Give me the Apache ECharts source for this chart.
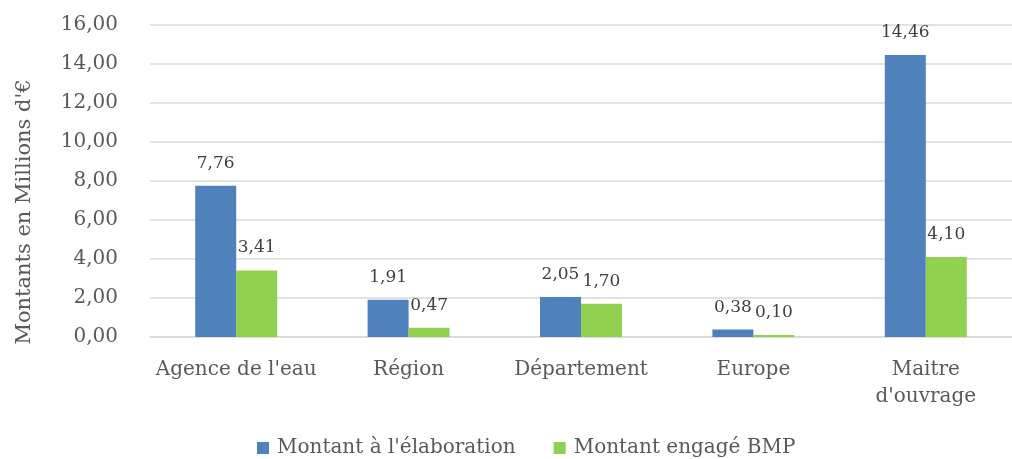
<!DOCTYPE html>
<html>
<head>
<meta charset="utf-8">
<script src="https://cdn.jsdelivr.net/npm/echarts@6/dist/echarts.min.js"></script>
<style>
  html, body { margin: 0; padding: 0; background: #fff; }
  #chart { width: 1012px; height: 459px; }
</style>
</head>
<body>
<div id="chart"></div>
<script>
// valeurs
const categories = ["Agence de l'eau", "Région", "Département", "Europe", "Maitre\nd'ouvrage"];
const montantElaboration = [7.76, 1.91, 2.05, 0.38, 14.46];
const montantEngage = [3.41, 0.47, 1.70, 0.10, 4.10];

const font = 'DejaVu Serif';
const grey = '#595959';
const fmt = v => v.toFixed(2).replace('.', ',');

let myChart = echarts.init(document.getElementById('chart'));
let option = {
    color: ['#4F81BD', '#92D050'],
    textStyle: { fontFamily: font },
    grid: {
        left: 150,
        top: 25,
        width: 870,
        height: 312
    },
    legend: {
        top: 433,
        left: 252,
        itemWidth: 12,
        itemHeight: 12,
        itemGap: 38,
        icon: 'rect',
        textStyle: { fontFamily: font, fontSize: 20, color: grey, padding: [0, 0, 0, 3] }
    },
    xAxis: {
        type: 'category',
        data: categories,
        axisTick: { show: false },
        axisLine: { lineStyle: { color: '#d9d9d9', width: 1.5 } },
        axisLabel: {
            interval: 0,
            margin: 19,
            fontFamily: font,
            fontSize: 20,
            lineHeight: 27,
            color: grey
        }
    },
    yAxis: {
        type: 'value',
        min: 0,
        max: 16,
        interval: 2,
        name: "Montants en Millions d'€",
        nameLocation: 'middle',
        nameGap: 115,
        nameTextStyle: { fontFamily: font, fontSize: 21, color: grey, padding: [0, 62, 0, 0] },
        axisLabel: {
            fontFamily: font,
            fontSize: 20,
            color: grey,
            margin: 32,
            formatter: v => fmt(v)
        },
        splitLine: { lineStyle: { color: '#d9d9d9', width: 1.5 } }
    },
    series: [
        {
            name: "Montant à l'élaboration",
            type: 'bar',
            barWidth: 41,
            barGap: '0%',
            data: montantElaboration,
            label: {
                show: true,
                position: 'top',
                distance: 14,
                fontFamily: font,
                fontSize: 17,
                color: '#404040',
                formatter: p => fmt(p.value)
            }
        },
        {
            name: 'Montant engagé BMP',
            type: 'bar',
            barWidth: 41,
            barGap: '0%',
            data: montantEngage,
            label: {
                show: true,
                position: 'top',
                distance: 14,
                fontFamily: font,
                fontSize: 17,
                color: '#404040',
                formatter: p => fmt(p.value)
            }
        }
    ]
};
myChart.setOption(option);
</script>
</body>
</html>
